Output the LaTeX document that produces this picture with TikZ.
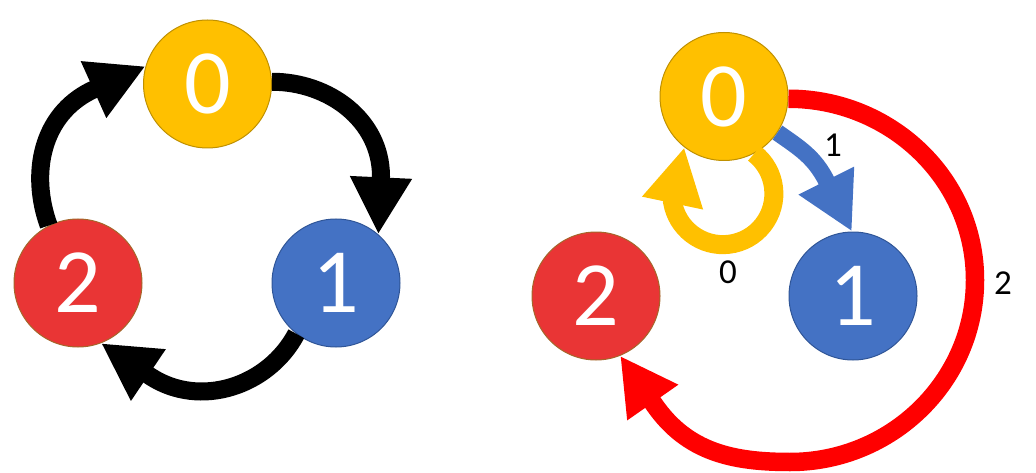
\documentclass[tikz,border=0pt]{standalone}
\usepackage{fontspec}
\setmainfont{Carlito}
\usetikzlibrary{arrows.meta}
\definecolor{cyel}{HTML}{FFC000}
\definecolor{cyelb}{HTML}{BF9000}
\definecolor{cblue}{HTML}{4472C4}
\definecolor{cblueb}{HTML}{2F5597}
\definecolor{cred}{HTML}{E93535}
\definecolor{credb}{HTML}{A5662A}
\definecolor{carrred}{HTML}{FF0000}
\tikzset{
  state/.style={circle, minimum size=128pt, inner sep=0pt, line width=1pt, text=white, font=\fontsize{92}{92}\selectfont},
  s0/.style={state, fill=cyel, draw=cyelb},
  s1/.style={state, fill=cblue, draw=cblueb},
  s2/.style={state, fill=cred, draw=credb},
  bigarrow/.style={line width=#1, -{Triangle[length=57pt,width=58pt]}},
  elabel/.style={font=\fontsize{35}{35}\selectfont, text=black},
}
\begin{document}
\begin{tikzpicture}[x=1pt,y=1pt]
\useasboundingbox (0,0) rectangle (1036,472);
% left diagram
\node[s0] (L0) at (207.5,388) {0};
\node[s1] (L1) at (336,189) {1};
\node[s2] (L2) at (78,189) {2};
\draw[bigarrow=18pt, black] (L0.2) to[out=0,in=90] (381,295.5) -- (L1.49);
\draw[bigarrow=18pt, black] (L1.232) to[out=242,in=-33] (150.5,95.5) -- (L2.291);
\draw[bigarrow=18pt, black] (L2.117) to[out=110,in=206] (91.5,381.5) -- (L0.164);
% right diagram
\node[s0] (R0) at (724,375.5) {0};
\node[s1] (R1) at (853,176) {1};
\node[s2] (R2) at (596,176) {2};
\draw[bigarrow=17pt, cblue] (R0.326) to[out=-35,in=117] (826.5,291) -- (R1.91);
\draw[bigarrow=19pt, cyel] (R0.298) arc[start angle=52, end angle=-170, radius=51] -- (R0.232);
\draw[bigarrow=18.5pt, carrred] (R0.-2) to[out=0,in=90] (975,192) to[out=-90,in=0] (790,10) to[out=180,in=-55] (654.7,66.7) -- (R2.292);
\node[elabel] (l1) at (833,327) {1};
\node[elabel] (l0) at (728,200) {0};
\node[elabel] (l2) at (1003,189) {2};
\end{tikzpicture}
\end{document}
